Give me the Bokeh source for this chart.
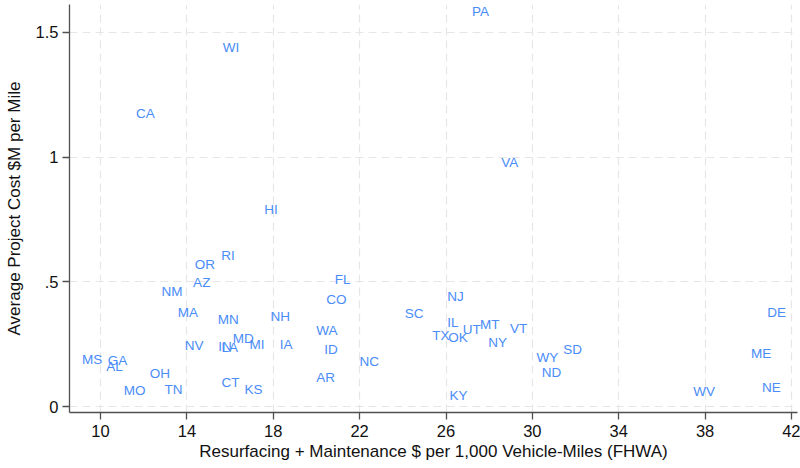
from bokeh.plotting import figure
from bokeh.models import ColumnDataSource, FixedTicker, Range1d
from bokeh.core.properties import value
from bokeh.embed import file_html
from bokeh.resources import INLINE

states = ["PA", "WI", "CA", "VA", "HI", "RI", "OR", "FL", "AZ", "NM",
          "NJ", "CO", "MA", "SC", "DE", "MN", "NH", "IL", "MT", "UT",
          "VT", "WA", "TX", "OK", "MD", "NV", "IN", "LA", "MI", "IA",
          "NY", "ID", "SD", "ME", "WY", "MS", "GA", "NC", "AL", "ND",
          "OH", "AR", "CT", "TN", "KS", "NE", "MO", "WV", "KY"]
resurf_maint = [27.07, 15.52, 11.51, 28.42, 17.44, 15.45, 14.23, 20.71, 14.15, 12.69,
                25.92, 20.31, 13.44, 23.95, 40.74, 15.29, 17.73, 25.92, 27.43, 26.64,
                28.82, 19.85, 25.22, 25.96, 15.99, 13.76, 15.31, 15.46, 16.76, 18.16,
                27.82, 20.22, 31.29, 39.99, 30.05, 9.00, 10.20, 21.86, 10.13, 30.30,
                12.14, 19.85, 15.46, 12.82, 16.53, 40.49, 10.94, 37.31, 26.02]
avg_cost = [1.583, 1.440, 1.174, 0.978, 0.790, 0.607, 0.570, 0.509, 0.497, 0.460,
            0.440, 0.429, 0.376, 0.373, 0.377, 0.350, 0.361, 0.337, 0.329, 0.310,
            0.312, 0.306, 0.285, 0.278, 0.273, 0.245, 0.240, 0.238, 0.248, 0.249,
            0.258, 0.229, 0.229, 0.213, 0.197, 0.190, 0.186, 0.183, 0.163, 0.138,
            0.133, 0.119, 0.097, 0.070, 0.070, 0.078, 0.065, 0.061, 0.046]

x_ticks = [10, 14, 18, 22, 26, 30, 34, 38, 42]
y_ticks = [0, 0.5, 1, 1.5]
y_tick_labels = ["0", ".5", "1", "1.5"]

FONT = "Liberation Sans"
LABEL_COLOR = "#4a8cf8"
AXIS_COLOR = "#505050"

src = ColumnDataSource(dict(x=resurf_maint, y=avg_cost, s=states))

p = figure(width=800, height=468, output_backend="svg", toolbar_location=None,
           x_range=Range1d(8.564, 42.278), y_range=Range1d(-0.0232, 1.612),
           min_border_left=69, min_border_right=3, min_border_top=4, min_border_bottom=56)
p.outline_line_color = None
p.background_fill_color = "white"
p.border_fill_color = "white"

p.text(x="x", y="y", text="s", source=src, x_offset=3,
       text_align="left", text_baseline="middle",
       text_font=value(FONT), text_font_size="13.5px", text_color=LABEL_COLOR)

p.xaxis.ticker = FixedTicker(ticks=x_ticks)
p.yaxis.ticker = FixedTicker(ticks=y_ticks)
p.yaxis.major_label_overrides = {t: l for t, l in zip(y_ticks, y_tick_labels)}
p.yaxis.major_label_orientation = "horizontal"

for ax in (p.xaxis, p.yaxis):
    ax.axis_line_color = AXIS_COLOR
    ax.axis_line_width = 1.3
    ax.major_tick_line_color = AXIS_COLOR
    ax.major_tick_line_width = 1.3
    ax.major_tick_out = 7
    ax.major_tick_in = 0
    ax.minor_tick_line_color = None
    ax.major_label_text_font = FONT
    ax.major_label_text_font_size = "16.5px"
    ax.major_label_text_color = "#111111"
    ax.axis_label_text_font = FONT
    ax.axis_label_text_font_size = "17px"
    ax.axis_label_text_font_style = "normal"
    ax.axis_label_text_color = "#111111"

p.xaxis.axis_label = "Resurfacing + Maintenance $ per 1,000 Vehicle-Miles (FHWA)"
p.yaxis.axis_label = "Average Project Cost $M per Mile"
p.xaxis.major_label_standoff = 5
p.xaxis.axis_label_standoff = 2
p.yaxis.major_label_standoff = 4
p.yaxis.axis_label_standoff = 9

for g in (p.xgrid, p.ygrid):
    g.grid_line_color = "#e6e6e6"
    g.grid_line_dash = "8 5"
    g.grid_line_width = 1.2
p.xgrid.ticker = FixedTicker(ticks=x_ticks)
p.ygrid.ticker = FixedTicker(ticks=y_ticks)

open("out.html", "w").write(file_html(p, INLINE))
